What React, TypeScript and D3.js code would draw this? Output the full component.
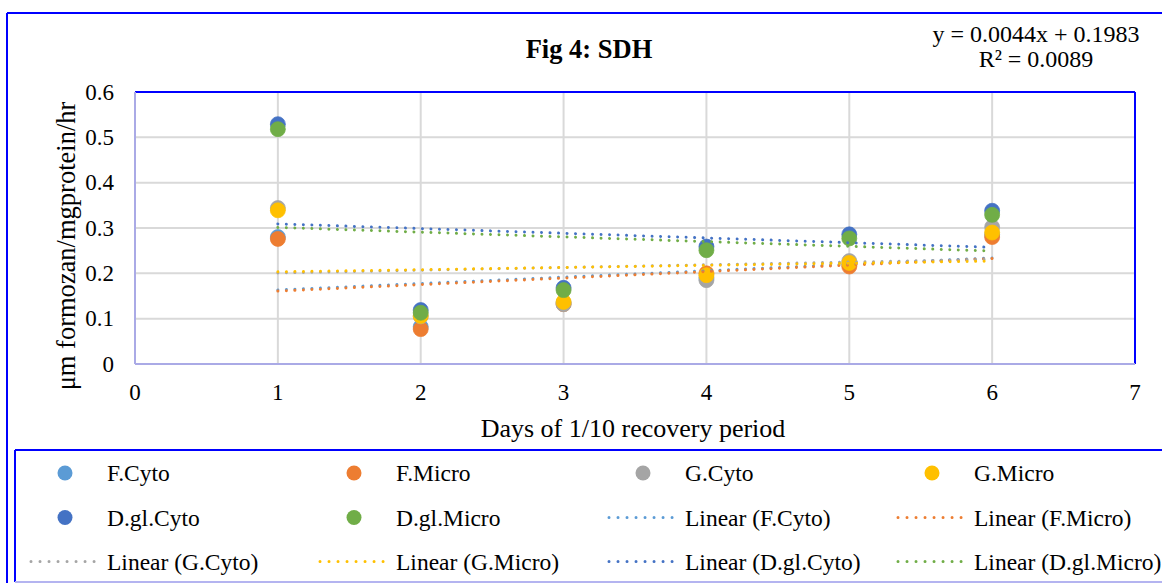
import React from 'react';
import * as d3 from 'd3';

const days = [1, 2, 3, 4, 5, 6];
const seriesNames = ['F.Cyto', 'F.Micro', 'G.Cyto', 'G.Micro', 'D.gl.Cyto', 'D.gl.Micro'];
const seriesColors = ['#5B9BD5', '#ED7D31', '#A5A5A5', '#FFC000', '#4472C4', '#70AD47'];

const fCyto = [0.280, 0.082, 0.135, 0.190, 0.220, 0.285];
const fMicro = [0.276, 0.077, 0.132, 0.200, 0.215, 0.280];
const gCyto = [0.344, 0.105, 0.132, 0.185, 0.227, 0.302];
const gMicro = [0.339, 0.106, 0.137, 0.196, 0.223, 0.290];
const dglCyto = [0.529, 0.119, 0.168, 0.259, 0.286, 0.338];
const dglMicro = [0.518, 0.113, 0.163, 0.251, 0.277, 0.329];

const xTicks = [0, 1, 2, 3, 4, 5, 6, 7];
const yTicks = [0, 0.1, 0.2, 0.3, 0.4, 0.5, 0.6];

const title = 'Fig 4: SDH';
const xTitle = 'Days of 1/10 recovery period';
const yTitle = 'μm formozan/mgprotein/hr';
const equation = ['y = 0.0044x + 0.1983', 'R² = 0.0089'];

const allValues = [fCyto, fMicro, gCyto, gMicro, dglCyto, dglMicro];

const FONT = '"Liberation Serif", "Times New Roman", serif';

// least squares fit, like Excel's linear trendline
function fit(xs: number[], ys: number[]) {
  const mx = d3.mean(xs) as number;
  const my = d3.mean(ys) as number;
  const sxy = d3.sum(xs, (x, i) => (x - mx) * (ys[i] - my));
  const sxx = d3.sum(xs, x => (x - mx) * (x - mx));
  const slope = sxy / sxx;
  return { slope, intercept: my - slope * mx };
}

export default function App() {
  const width = 1162;
  const height = 583;
  const plot = { left: 135, right: 1135, top: 92, bottom: 364 };

  const x = d3.scaleLinear().domain([0, 7]).range([plot.left, plot.right]);
  const y = d3.scaleLinear().domain([0, 0.6]).range([plot.bottom, plot.top]);

  const line = d3.line<[number, number]>().x(d => x(d[0])).y(d => y(d[1]));

  const trends = allValues.map(vals => {
    const { slope, intercept } = fit(days, vals);
    const x0 = d3.min(days) as number;
    const x1 = d3.max(days) as number;
    return [[x0, intercept + slope * x0], [x1, intercept + slope * x1]] as [number, number][];
  });

  const legendItems = [
    ...seriesNames.map((n, i) => ({ label: n, color: seriesColors[i], kind: 'marker' })),
    ...seriesNames.map((n, i) => ({ label: `Linear (${n})`, color: seriesColors[i], kind: 'line' })),
  ];
  const legendCols = [65, 354, 643, 932];
  const legendRows = [473, 517.5, 561.5];

  const dotted = { strokeWidth: 3, strokeDasharray: '0.01 8.5', strokeLinecap: 'round' as const, fill: 'none' };

  return (
    <svg width={width} height={height} style={{ position: 'absolute', left: 0, top: 0, background: '#fff' }}
      fontFamily={FONT}>
      <rect x={0} y={0} width={width} height={height} fill="#fff" />
      {/* outer chart frame */}
      <line x1={7} x2={width} y1={13} y2={13} stroke="#0000FF" strokeWidth={2} />
      <line x1={7} x2={7} y1={13} y2={height} stroke="#0000FF" strokeWidth={2} />

      <text x={589} y={58} textAnchor="middle" fontSize={26.5} fontWeight="bold">{title}</text>
      <text x={1036} y={42} textAnchor="middle" fontSize={24}>{equation[0]}</text>
      <text x={1036} y={67} textAnchor="middle" fontSize={24}>{equation[1]}</text>

      {/* gridlines */}
      {yTicks.slice(1, -1).map(t => (
        <line key={'gy' + t} x1={plot.left} x2={plot.right} y1={y(t)} y2={y(t)} stroke="#D9D9D9" strokeWidth={2} />
      ))}
      {xTicks.slice(1, -1).map(t => (
        <line key={'gx' + t} x1={x(t)} x2={x(t)} y1={plot.top} y2={plot.bottom} stroke="#D9D9D9" strokeWidth={2} />
      ))}

      {/* plot border */}
      <line x1={plot.left} x2={plot.right} y1={plot.top} y2={plot.top} stroke="#0000FF" strokeWidth={2} />
      <line x1={plot.right} x2={plot.right} y1={plot.top} y2={plot.bottom} stroke="#0000FF" strokeWidth={2} />
      <line x1={plot.left} x2={plot.right} y1={plot.bottom} y2={plot.bottom} stroke="#AAAAE6" strokeWidth={2} />
      <line x1={plot.left} x2={plot.left} y1={plot.top} y2={plot.bottom} stroke="#AAAAE6" strokeWidth={2} />

      {/* tick labels */}
      {yTicks.map(t => (
        <text key={'ty' + t} x={114} y={y(t) + 7.5} textAnchor="end" fontSize={23}>{d3.format('~g')(t)}</text>
      ))}
      {xTicks.map(t => (
        <text key={'tx' + t} x={x(t)} y={400} textAnchor="middle" fontSize={23}>{t}</text>
      ))}

      <text x={633} y={437} textAnchor="middle" fontSize={26}>{xTitle}</text>
      <text transform={`translate(75,${(plot.top + plot.bottom) / 2 + 18}) rotate(-90)`} textAnchor="middle" fontSize={26.5}>{yTitle}</text>

      {/* markers */}
      {allValues.map((vals, s) => (
        <g key={'m' + s}>
          {vals.map((v, i) => (
            <circle key={i} cx={x(days[i])} cy={y(v)} r={7.5} fill={seriesColors[s]} stroke={seriesColors[s]} strokeWidth={0.75} />
          ))}
        </g>
      ))}

      {/* trendlines */}
      {trends.map((pts, s) => (
        <path key={'t' + s} d={line(pts) || ''} stroke={seriesColors[s]} {...dotted} />
      ))}

      {/* legend */}
      <line x1={15} x2={width} y1={450} y2={450} stroke="#0000FF" strokeWidth={2} />
      <line x1={15} x2={15} y1={450} y2={582} stroke="#0000FF" strokeWidth={2} />
      <line x1={15} x2={width} y1={582} y2={582} stroke="#B4B4F0" strokeWidth={2} />
      {legendItems.map((it, i) => {
        const cx = legendCols[i % 4];
        const cy = legendRows[Math.floor(i / 4)];
        return (
          <g key={'l' + i}>
            {it.kind === 'marker'
              ? <circle cx={cx} cy={cy} r={7.5} fill={it.color} />
              : <line x1={cx - 34} x2={cx + 30} y1={cy} y2={cy} stroke={it.color} {...dotted} strokeDasharray="0.01 9" />}
            <text x={cx + 42} y={cy + 8} fontSize={23.5}>{it.label}</text>
          </g>
        );
      })}
    </svg>
  );
}
